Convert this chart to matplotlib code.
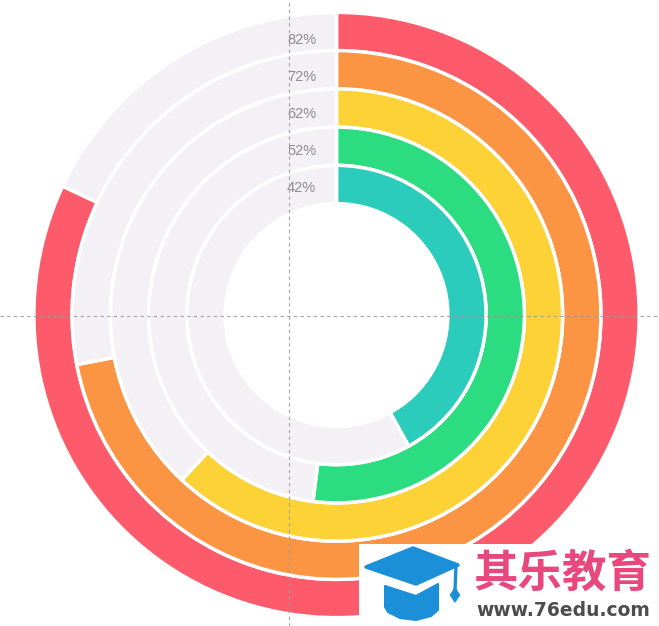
import matplotlib
matplotlib.use('Agg')
import matplotlib.pyplot as plt
import numpy as np
from matplotlib.patches import Polygon, Rectangle

# ---- data ----
labels = ['82%', '72%', '62%', '52%', '42%']
values = [82, 72, 62, 52, 42]
colors = ['#FD5B6B', '#FB9443', '#FDD236', '#2BDC80', '#2BCCBB']
track_color = '#F3F1F5'

W, H = 659, 626
fig = plt.figure(figsize=(W / 100, H / 100), dpi=100)
fig.patch.set_facecolor('white')

cx, cy = 336.5, 315.0
R = 310.0
ax = fig.add_axes([(cx - R) / W, (H - cy - R) / H, 2 * R / W, 2 * R / H],
                  projection='polar')
ax.set_theta_zero_location('N')
ax.set_theta_direction(-1)
ax.set_ylim(0, R)
ax.set_axis_off()

pitch = 38.25
outer_center = 283.5
centers = outer_center - pitch * np.arange(len(values))
label_r = 274.5 - 36.75 * np.arange(len(values))

for v, c, rc, lr, lab in zip(values, colors, centers, label_r, labels):
    span = 2 * np.pi * v / 100.0
    ax.bar(0, pitch, width=span, bottom=rc - pitch / 2, align='edge',
           color=c, edgecolor='white', linewidth=2.5)
    ax.bar(span, pitch, width=2 * np.pi - span, bottom=rc - pitch / 2,
           align='edge', color=track_color, edgecolor='white', linewidth=2.5)
    ax.annotate(lab, xy=(0, lr), xycoords='data', xytext=(-14.6, 0),
                textcoords='offset points', ha='right', va='center',
                fontsize=10.5, color='#8c8c8c', family='Liberation Sans')

# ---- overlay in pixel coordinates ----
ov = fig.add_axes([0, 0, 1, 1])
ov.set_xlim(0, W)
ov.set_ylim(H, 0)
ov.axis('off')
ov.patch.set_alpha(0)

ov.axvline(288.5, color='#9a9a9a', lw=0.8, ls=(0, (3, 3)), alpha=0.9)
ov.axhline(315.5, color='#9a9a9a', lw=0.8, ls=(0, (3, 3)), alpha=0.9)

# watermark
ov.add_patch(Rectangle((359, 544), 310, 90, facecolor='white', edgecolor='none', zorder=10))
blue = '#1C8FD9'
ov.add_patch(Polygon([(366, 567), (413, 548), (458, 565), (416, 584)], closed=True,
                     facecolor=blue, edgecolor=blue, lw=2.5, joinstyle='round', zorder=11))
ov.add_patch(Polygon([(385, 586), (416, 596), (438, 584), (438, 610), (431, 616),
                      (416, 620), (400, 618), (388, 612), (385, 607)], closed=True,
                     facecolor=blue, edgecolor=blue, lw=1.5, joinstyle='round', zorder=11))
ov.plot([456, 455], [566, 590], color=blue, lw=2.4, solid_capstyle='round', zorder=11)
ov.add_patch(Polygon([(450.5, 595), (455, 588), (459.5, 595), (455, 602)], closed=True,
                     facecolor=blue, edgecolor=blue, lw=1, zorder=11))

ov.text(562.5, 574, '其乐教育', family=['Noto Sans CJK SC'], weight='bold',
        fontsize=32, color='#E9487D', ha='center', va='center', zorder=12)
ov.text(563, 611, 'www.76edu.com', family=['DejaVu Sans'], weight='bold',
        fontsize=13.5, color='#4d4d4d', ha='center', va='center', zorder=12)

fig.savefig('out.png', dpi=100, facecolor='white')
